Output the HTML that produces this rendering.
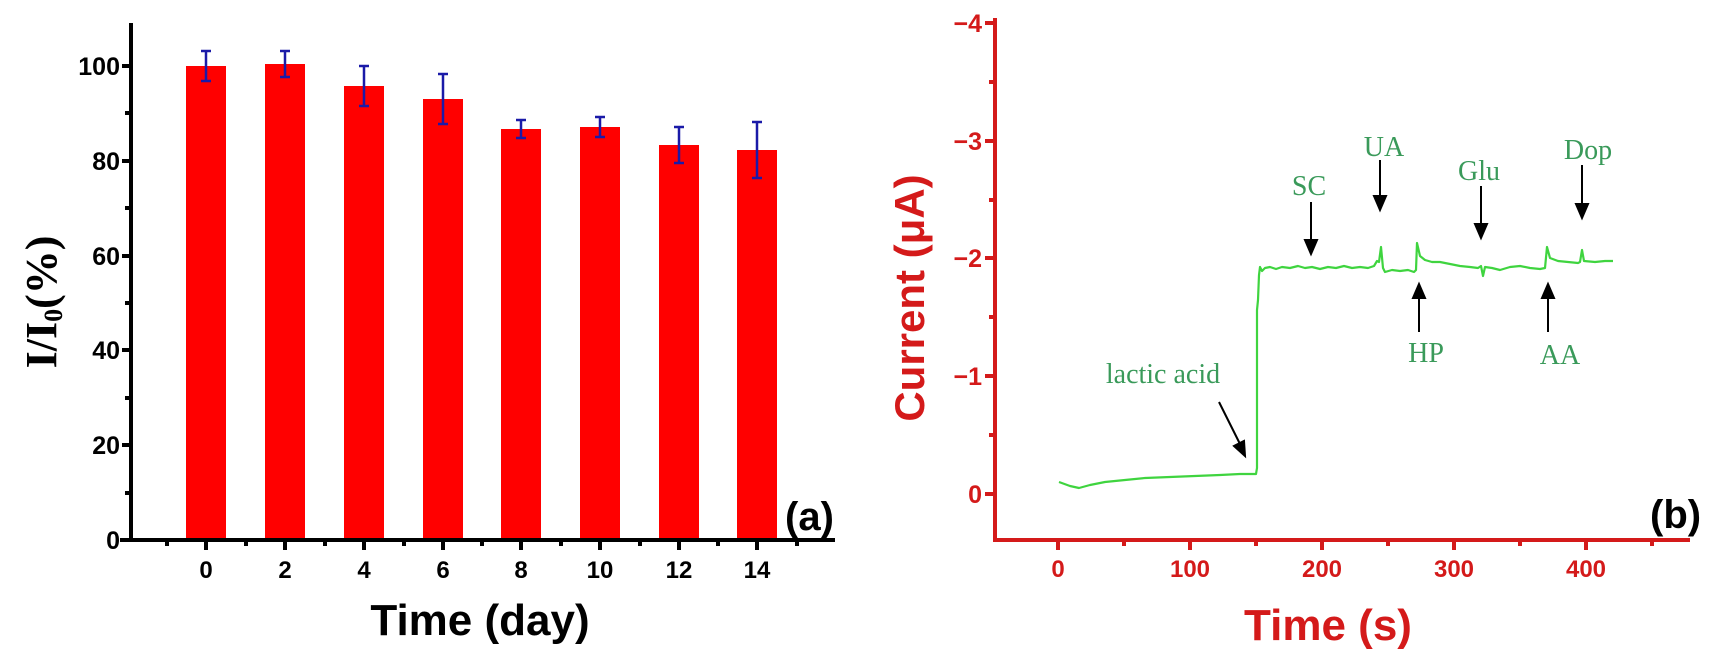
<!DOCTYPE html>
<html><head><meta charset="utf-8"><style>
html,body{margin:0;padding:0;background:#fff;}
svg{display:block;}
.tl{font-family:"Liberation Sans Narrow","Liberation Sans",sans-serif;font-weight:bold;}
.ser{font-family:"Liberation Serif",serif;}
</style></head><body>
<svg width="1715" height="664" viewBox="0 0 1715 664" xmlns="http://www.w3.org/2000/svg">
<!-- LEFT CHART -->
<g fill="#ff0000">
<rect x="186" y="66" width="40" height="474"/>
<rect x="265" y="64" width="40" height="476"/>
<rect x="344" y="86" width="40" height="454"/>
<rect x="423" y="99" width="40" height="441"/>
<rect x="501" y="129" width="40" height="411"/>
<rect x="580" y="127" width="40" height="413"/>
<rect x="659" y="145" width="40" height="395"/>
<rect x="737" y="150" width="40" height="390"/>
</g>
<g stroke="#1a1aa8" stroke-width="2.5" fill="none">
<path d="M206,51V81M201,51H211M201,81H211"/>
<path d="M285,51V77M280,51H290M280,77H290"/>
<path d="M364,66V106M359,66H369M359,106H369"/>
<path d="M443,74V124M438,74H448M438,124H448"/>
<path d="M521,120V138M516,120H526M516,138H526"/>
<path d="M600,117V137M595,117H605M595,137H605"/>
<path d="M679,127V163M674,127H684M674,163H684"/>
<path d="M757,122V178M752,122H762M752,178H762"/>
</g>
<g stroke="#000" stroke-width="4" fill="none">
<path d="M131,23V542M120,540H835"/>
<path d="M131,66H122M131,161H122M131,256H122M131,350H122M131,445H122M131,540H122"/>
<path d="M131,113H125M131,208H125M131,303H125M131,398H125M131,493H125"/>
<path d="M206,540v10M285,540v10M364,540v10M443,540v10M521,540v10M600,540v10M679,540v10M757,540v10"/>
<path d="M167,540v6M246,540v6M325,540v6M404,540v6M482,540v6M561,540v6M640,540v6M718,540v6M797,540v6"/>
</g>
<g class="tl" font-size="25" text-anchor="end" fill="#000">
<text x="120" y="75">100</text><text x="120" y="170">80</text><text x="120" y="265">60</text>
<text x="120" y="359">40</text><text x="120" y="454">20</text><text x="120" y="549">0</text>
</g>
<g class="tl" font-size="24" text-anchor="middle" fill="#000">
<text x="206" y="578">0</text><text x="285" y="578">2</text><text x="364" y="578">4</text>
<text x="443" y="578">6</text><text x="521" y="578">8</text><text x="600" y="578">10</text>
<text x="679" y="578">12</text><text x="757" y="578">14</text>
</g>
<text font-family="Liberation Sans, sans-serif" font-weight="bold" font-size="44" x="480" y="635" text-anchor="middle" fill="#000">Time (day)</text>
<text font-family="Liberation Serif, serif" font-weight="bold" font-size="44" transform="translate(56,302) rotate(-90)" text-anchor="middle" fill="#000">I/I<tspan font-size="26" dy="6">0</tspan><tspan dy="-6">(%)</tspan></text>
<text font-family="Liberation Sans, sans-serif" font-weight="bold" font-size="40" x="785" y="530" fill="#000">(a)</text>

<!-- RIGHT CHART -->
<g stroke="#d41a1a" stroke-width="4" fill="none">
<path d="M995,18V542M993,540H1690"/>
<path d="M995,23H985M995,141H985M995,258H985M995,376H985M995,494H985"/>
<path d="M995,82H989M995,200H989M995,317H989M995,435H989"/>
<path d="M1058,540v10M1190,540v10M1322,540v10M1454,540v10M1586,540v10"/>
<path d="M1124,540v6M1256,540v6M1388,540v6M1520,540v6M1652,540v6"/>
</g>
<g class="tl" font-size="25" text-anchor="end" fill="#d41a1a">
<text x="982" y="32">−4</text><text x="982" y="150">−3</text><text x="982" y="267">−2</text>
<text x="982" y="385">−1</text><text x="982" y="503">0</text>
</g>
<g class="tl" font-size="24" text-anchor="middle" fill="#d41a1a">
<text x="1058" y="577">0</text><text x="1190" y="577">100</text><text x="1322" y="577">200</text>
<text x="1454" y="577">300</text><text x="1586" y="577">400</text>
</g>
<text font-family="Liberation Sans, sans-serif" font-weight="bold" font-size="44" x="1328" y="640" text-anchor="middle" fill="#d41a1a">Time (s)</text>
<text font-family="Liberation Sans, sans-serif" font-weight="bold" font-size="42" transform="translate(924,298) rotate(-90)" text-anchor="middle" fill="#d41a1a">Current (μA)</text>
<text font-family="Liberation Sans, sans-serif" font-weight="bold" font-size="40" x="1650" y="528" fill="#000">(b)</text>

<path fill="none" stroke="#3fd43f" stroke-width="2.2" stroke-linejoin="round" d="M1059,482 L1070,486 L1079,488 L1090,485 L1105,482 L1125,480 L1145,478 L1170,477 L1195,476 L1220,475 L1240,474 L1256,474 L1257,468 L1257,310 L1258,300 L1259,275 L1260,267 L1262,271 L1265,268 L1270,267 L1276,269 L1282,267 L1290,268 L1298,266 L1305,268 L1312,267 L1320,269 L1328,267 L1336,268 L1344,266 L1352,268 L1360,267 L1368,268 L1374,266 L1377,261 L1379,262 L1381,247 L1383,268 L1385,272 L1392,270 L1400,271 L1408,270 L1414,272 L1416,270 L1417,243 L1420,256 L1425,260 L1432,262 L1440,262 L1450,264 L1460,266 L1470,267 L1478,268 L1481,266 L1483,276 L1485,267 L1492,268 L1500,270 L1510,267 L1520,266 L1530,268 L1540,269 L1545,268 L1547,247 L1550,258 L1558,261 L1568,262 L1578,263 L1580,262 L1582,250 L1584,261 L1595,262 L1605,261 L1613,261"/>

<g stroke="#000" stroke-width="2" fill="#000">
<path d="M1311,202V242"/><path d="M1305,240L1311,254L1317,240Z"/>
<path d="M1380,160V198"/><path d="M1374,196L1380,210L1386,196Z"/>
<path d="M1481,186V226"/><path d="M1475,224L1481,238L1487,224Z"/>
<path d="M1582,165V206"/><path d="M1576,204L1582,218L1588,204Z"/>
<path d="M1419,332V296"/><path d="M1413,298L1419,284L1425,298Z"/>
<path d="M1548,332V296"/><path d="M1542,298L1548,284L1554,298Z"/>
<path d="M1219,402L1240,444"/><path d="M1234,446L1245,456L1244,441Z"/>
</g>
<g class="ser" font-size="28" fill="#3a9a5a" text-anchor="middle">
<text x="1309" y="195">SC</text>
<text x="1384" y="156">UA</text>
<text x="1479" y="180">Glu</text>
<text x="1588" y="159">Dop</text>
<text x="1426" y="362">HP</text>
<text x="1560" y="364">AA</text>
<text x="1163" y="383">lactic acid</text>
</g>
</svg>
</body></html>
